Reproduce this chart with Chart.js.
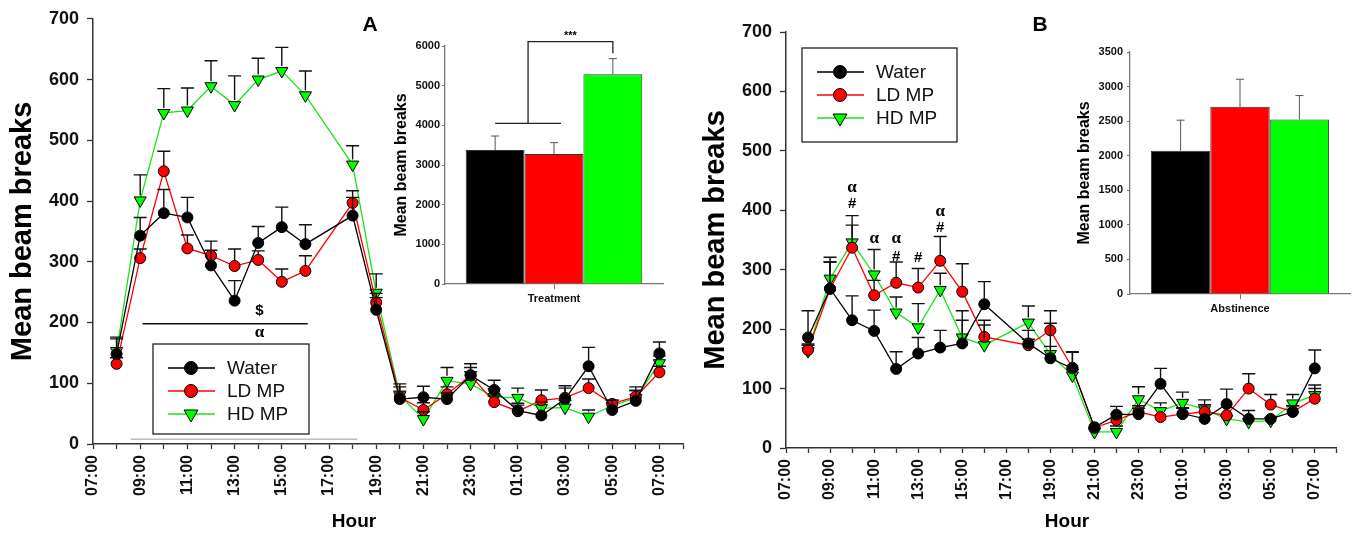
<!DOCTYPE html>
<html>
<head>
<meta charset="utf-8">
<script src="https://cdn.jsdelivr.net/npm/chart.js@4.4.1/dist/chart.umd.min.js"></script>
<style>
  html, body { margin: 0; padding: 0; background: #fff; }
  #wrap { position: relative; width: 1362px; height: 533px; overflow: hidden; }
  #wrap canvas { position: absolute; left: 0; top: 0; }
</style>
</head>
<body>
<div id="wrap">
  <canvas id="line-a" width="1362" height="533"></canvas>
  <canvas id="inset-a" width="1362" height="533"></canvas>
  <canvas id="line-b" width="1362" height="533"></canvas>
  <canvas id="inset-b" width="1362" height="533"></canvas>
</div>
<script>
// Data
const hours = ['08:00', '09:00', '10:00', '11:00', '12:00', '13:00', '14:00', '15:00', '16:00',
  '18:00', '19:00', '20:00', '21:00', '22:00', '23:00', '00:00', '01:00', '02:00', '03:00',
  '04:00', '05:00', '06:00', '07:00'];
const tickLabels = ['07:00', '09:00', '11:00', '13:00', '15:00', '17:00', '19:00', '21:00',
  '23:00', '01:00', '03:00', '05:00', '07:00'];
const groups = ['Water', 'LD MP', 'HD MP'];

// Panel A (treatment)
const waterA = [148, 343, 380, 373, 294, 236, 331, 357, 329, 376, 221, 74, 77, 74, 113, 89, 55, 47, 74, 128, 56, 71, 149];
const waterAErr = [25, 30, 39, 33, 25, 33, 27, 33, 32, 30, 20, 20, 18, 10, 19, 16, 12, 8, 22, 31, 16, 23, 19];
const ldA = [132, 306, 449, 322, 310, 293, 303, 267, 285, 397, 233, 77, 56, 82, 113, 69, 54, 72, 76, 92, 66, 78, 118];
const ldAErr = [10, 15, 33, 22, 24, 28, 15, 21, 25, 20, 15, 10, 12, 12, 13, 10, 10, 17, 16, 15, 8, 10, 10];
const hdA = [153, 401, 545, 549, 589, 558, 600, 614, 574, 460, 249, 80, 41, 104, 99, 77, 76, 59, 60, 45, 63, 76, 133];
const hdAErr = [23, 42, 40, 37, 42, 48, 35, 39, 40, 31, 31, 19, 12, 22, 20, 14, 16, 10, 12, 11, 9, 12, 12];

// Panel B (abstinence)
const waterB = [186, 268, 215, 197, 133, 159, 169, 176, 242, 176, 151, 134, 35, 56, 57, 108, 58, 49, 74, 49, 49, 61, 134];
const waterBErr = [45, 45, 41, 35, 29, 27, 29, 39, 38, 22, 20, 27, 5, 14, 10, 26, 10, 8, 25, 14, 8, 10, 31];
const ldB = [165, 268, 337, 257, 278, 270, 315, 263, 187, 173, 198, 135, 34, 47, 61, 52, 57, 61, 55, 100, 73, 61, 83];
const ldBErr = [10, 53, 38, 25, 35, 32, 41, 47, 28, 10, 33, 27, 5, 10, 10, 8, 10, 12, 8, 25, 17, 10, 17];
const hdB = [163, 285, 346, 292, 228, 203, 266, 186, 173, 211, 158, 122, 27, 27, 82, 62, 76, 65, 49, 44, 46, 75, 89];
const hdBErr = [10, 28, 45, 42, 26, 40, 28, 45, 34, 28, 52, 10, 5, 10, 21, 14, 18, 16, 8, 6, 6, 15, 17];

// Insets: total beam breaks
const totalA = [3378, 3277, 5286];
const totalAErr = [353, 286, 395];
const totalB = [2072, 2707, 2524];
const totalBErr = [442, 399, 346];

const FONT = "'Liberation Sans', Arial, sans-serif";
const SERIF = "'Liberation Serif', 'Times New Roman', serif";
const groupStyles = [
  { line: '#000000', fill: '#000000', shape: 'circle' },
  { line: '#ff0000', fill: '#ff0000', shape: 'circle' },
  { line: '#19e619', fill: '#00ff00', shape: 'triangle' },
];

// hours since 07:00, keeps increasing past midnight
function hourPositions(list) {
  let prev = -1;
  return list.map(h => {
    let v = (parseInt(h, 10) - 7 + 24) % 24;
    while (v <= prev) v += 24;
    prev = v;
    return v;
  });
}
const xs = hourPositions(hours);

function drawMarker(ctx, shape, x, y, r, fill) {
  ctx.save();
  ctx.fillStyle = fill;
  ctx.strokeStyle = '#000';
  ctx.lineWidth = 1;
  ctx.beginPath();
  if (shape === 'circle') {
    ctx.arc(x, y, r, 0, Math.PI * 2);
  } else {
    ctx.moveTo(x - r * 0.87, y - r * 0.5);
    ctx.lineTo(x + r * 0.87, y - r * 0.5);
    ctx.lineTo(x, y + r);
    ctx.closePath();
  }
  ctx.fill();
  ctx.stroke();
  ctx.restore();
}

function lineDatasets(series, errs) {
  return series.map((vals, g) => {
    const st = groupStyles[g];
    return {
      label: groups[g],
      data: vals.map((v, i) => ({ x: xs[i], y: v })),
      errors: errs[g],
      borderColor: st.line,
      borderWidth: 1.3,
      pointBackgroundColor: st.fill,
      pointBorderColor: '#000',
      pointBorderWidth: 1,
      pointRadius: st.shape === 'circle' ? 5.5 : 7,
      pointStyle: st.shape === 'circle' ? 'circle' : 'triangle',
      pointRotation: st.shape === 'circle' ? 0 : 180,
      tension: 0,
      fill: false,
    };
  });
}

// one-sided (upward) error bars
const errorBars = {
  id: 'errorBars',
  afterDatasetsDraw(chart) {
    const { ctx } = chart;
    const yScale = chart.scales.y;
    const isBar = chart.config.type === 'bar';
    ctx.save();
    ctx.strokeStyle = isBar ? '#555' : '#111';
    ctx.lineWidth = isBar ? 1 : 1.4;
    chart.data.datasets.forEach((ds, di) => {
      const meta = chart.getDatasetMeta(di);
      meta.data.forEach((el, i) => {
        const v = isBar ? ds.data[i] : ds.data[i].y;
        const top = yScale.getPixelForValue(v + ds.errors[i]);
        const base = isBar ? el.y : el.y - 5;
        if (top >= base) return;
        const half = isBar ? 4 : 6.5;
        ctx.beginPath();
        ctx.moveTo(el.x, base);
        ctx.lineTo(el.x, top);
        ctx.moveTo(el.x - half, top);
        ctx.lineTo(el.x + half, top);
        ctx.stroke();
      });
    });
    ctx.restore();
  }
};

function legendPlugin(box) {
  return {
    id: 'boxLegend',
    afterDraw(chart) {
      const { ctx } = chart;
      ctx.save();
      ctx.strokeStyle = '#222';
      ctx.lineWidth = 1.3;
      ctx.strokeRect(box.x, box.y, box.w, box.h);
      groups.forEach((name, g) => {
        const st = groupStyles[g];
        const y = box.y + 24 + g * 23;
        ctx.strokeStyle = st.line;
        ctx.lineWidth = 1.3;
        ctx.beginPath();
        ctx.moveTo(box.x + 15, y);
        ctx.lineTo(box.x + 62, y);
        ctx.stroke();
        drawMarker(ctx, st.shape, box.x + 38, y, st.shape === 'circle' ? 6.5 : 8, st.fill);
        ctx.fillStyle = '#111';
        ctx.font = '19px ' + FONT;
        ctx.textBaseline = 'middle';
        ctx.fillText(name, box.x + 74, y + 1);
      });
      ctx.restore();
    }
  };
}

// panel letter, "Hour" title and significance marks
function notesPlugin(cfg) {
  return {
    id: 'notes',
    afterDraw(chart) {
      const { ctx } = chart;
      const xS = chart.scales.x, yS = chart.scales.y;
      ctx.save();
      ctx.fillStyle = '#000';
      ctx.textAlign = 'center';
      ctx.textBaseline = 'middle';
      ctx.font = 'bold 21px ' + FONT;
      ctx.fillText(cfg.letter, cfg.letterX, 25);
      ctx.font = 'bold 19px ' + FONT;
      ctx.fillText('Hour', cfg.hourX, 522);
      (cfg.lines || []).forEach(l => {
        ctx.strokeStyle = l.color;
        ctx.lineWidth = l.width;
        ctx.beginPath();
        ctx.moveTo(xS.getPixelForValue(l.x0), yS.getPixelForValue(l.y));
        ctx.lineTo(xS.getPixelForValue(l.x1), yS.getPixelForValue(l.y));
        ctx.stroke();
      });
      (cfg.marks || []).forEach(m => {
        ctx.font = m.text === 'α' ? 'bold 17px ' + SERIF : 'bold 15px ' + FONT;
        ctx.fillText(m.text, xS.getPixelForValue(m.x), yS.getPixelForValue(m.y));
      });
      ctx.restore();
    }
  };
}

function lineOptions(cfg) {
  return {
    responsive: false,
    animation: false,
    layout: { padding: cfg.padding },
    plugins: { legend: { display: false }, tooltip: { enabled: false } },
    scales: {
      x: {
        type: 'linear', min: 0, max: 25,
        afterFit(s) { s.height = cfg.xHeight; },
        ticks: {
          stepSize: 1, maxTicksLimit: 40, autoSkip: false, minRotation: 90, maxRotation: 90,
          padding: 6, color: '#111', font: { family: FONT, size: 16, weight: 'bold' },
          callback(v) { return (v % 2 === 0 && v <= 24) ? tickLabels[v / 2] : ''; }
        },
        grid: { drawOnChartArea: false, tickLength: 5, color: '#333', tickWidth: 1.3 },
        border: { color: '#333', width: 1.5 }
      },
      y: {
        min: 0, max: 700,
        afterFit(s) { s.width = cfg.yWidth; },
        ticks: { stepSize: 100, padding: 8, color: '#111', font: { family: FONT, size: 18, weight: 'bold' } },
        grid: { drawOnChartArea: false, tickLength: 6, color: '#333', tickWidth: 1.3 },
        border: { color: '#333', width: 1.5 },
        title: {
          display: true, text: 'Mean beam breaks', color: '#000',
          font: { family: FONT, size: 29, weight: 'bold' },
          padding: { top: cfg.titlePad, bottom: 0 }
        }
      }
    }
  };
}

function barDatasets(vals, errs) {
  return vals.map((v, g) => ({
    label: groups[g],
    data: [v],
    errors: [errs[g]],
    backgroundColor: groupStyles[g].fill,
    borderColor: '#333',
    borderWidth: 1,
    barPercentage: 1,
    categoryPercentage: 0.81,
  }));
}

function insetOptions(cfg) {
  return {
    responsive: false,
    animation: false,
    layout: { padding: cfg.padding },
    plugins: { legend: { display: false }, tooltip: { enabled: false } },
    scales: {
      x: {
        afterFit(s) { s.height = 30; },
        ticks: { padding: 3, color: '#111', font: { family: FONT, size: 11, weight: 'bold' } },
        grid: { offset: false, drawOnChartArea: false, tickLength: 5, color: '#777' },
        border: { color: '#777', width: 1.3 }
      },
      y: {
        min: 0, max: cfg.max,
        afterFit(s) { s.width = cfg.yWidth; },
        ticks: {
          stepSize: cfg.step, padding: cfg.tickPad, color: '#111',
          font: { family: FONT, size: 11, weight: 'bold' },
          callback(v) { return String(v); }
        },
        grid: { drawOnChartArea: false, tickLength: 3, color: '#777' },
        border: { color: '#777', width: 1.3 },
        title: {
          display: true, text: 'Mean beam breaks', color: '#000',
          font: { family: FONT, size: 16, weight: 'bold' },
          padding: { top: cfg.titlePad, bottom: 0 }
        }
      }
    }
  };
}

// bracket over the treatment inset
const bracketA = {
  id: 'bracketA',
  afterDraw(chart) {
    const { ctx } = chart;
    const yS = chart.scales.y;
    const b0 = chart.getDatasetMeta(0).data[0];
    const b1 = chart.getDatasetMeta(1).data[0];
    const b2 = chart.getDatasetMeta(2).data[0];
    const xl = b0.x, xr = b1.x + 7, xm = (xl + xr) / 2;
    const yLow = yS.getPixelForValue(4050);
    const yTop = yS.getPixelForValue(6110);
    const yEnd = yS.getPixelForValue(5815);
    ctx.save();
    ctx.strokeStyle = '#222';
    ctx.lineWidth = 1.3;
    ctx.beginPath();
    ctx.moveTo(xl, yLow); ctx.lineTo(xr, yLow);
    ctx.moveTo(xm, yLow); ctx.lineTo(xm, yTop);
    ctx.lineTo(b2.x, yTop); ctx.lineTo(b2.x, yEnd);
    ctx.stroke();
    ctx.fillStyle = '#000';
    ctx.font = 'bold 11px ' + FONT;
    ctx.textAlign = 'center';
    ctx.textBaseline = 'middle';
    ctx.fillText('***', (xm + b2.x) / 2, yTop - 6);
    ctx.restore();
  }
};

new Chart(document.getElementById('line-a'), {
  type: 'line',
  data: { datasets: lineDatasets([waterA, ldA, hdA], [waterAErr, ldAErr, hdAErr]) },
  options: lineOptions({ padding: { left: 0, right: 679, top: 18, bottom: 0 }, xHeight: 89, yWidth: 93, titlePad: 6 }),
  plugins: [errorBars, legendPlugin({ x: 153, y: 344, w: 156, h: 90 }), notesPlugin({
    letter: 'A', letterX: 370, hourX: 354,
    lines: [
      { x0: 2.1, x1: 9.1, y: 198, color: '#111', width: 1.6 },
      { x0: 1.6, x1: 11.2, y: 8, color: '#999', width: 1 }
    ],
    marks: [{ x: 7.05, y: 220, text: '$' }, { x: 7.05, y: 184, text: 'α' }]
  })]
});

new Chart(document.getElementById('inset-a'), {
  type: 'bar',
  data: { labels: ['Treatment'], datasets: barDatasets(totalA, totalAErr) },
  options: insetOptions({ padding: { left: 380, right: 699, top: 46, bottom: 219 }, max: 6000, step: 1000, yWidth: 65, tickPad: 2, titlePad: 12 }),
  plugins: [errorBars, bracketA]
});

new Chart(document.getElementById('line-b'), {
  type: 'line',
  data: { datasets: lineDatasets([waterB, ldB, hdB], [waterBErr, ldBErr, hdBErr]) },
  options: lineOptions({ padding: { left: 690, right: 9, top: 32, bottom: 0 }, xHeight: 85, yWidth: 96, titlePad: 9 }),
  plugins: [errorBars, legendPlugin({ x: 802, y: 48, w: 155, h: 94 }), notesPlugin({
    letter: 'B', letterX: 1040, hourX: 1067,
    marks: [
      { x: 3, y: 438, text: 'α' }, { x: 3, y: 411, text: '#' },
      { x: 4, y: 352, text: 'α' },
      { x: 5, y: 352, text: 'α' }, { x: 5, y: 321, text: '#' },
      { x: 6, y: 320, text: '#' },
      { x: 7, y: 397, text: 'α' }, { x: 7, y: 371, text: '#' }
    ]
  })]
});

new Chart(document.getElementById('inset-b'), {
  type: 'bar',
  data: { labels: ['Abstinence'], datasets: barDatasets(totalB, totalBErr) },
  options: insetOptions({ padding: { left: 1060, right: 12, top: 52, bottom: 209 }, max: 3500, step: 500, yWidth: 70, tickPad: 4, titlePad: 15 }),
  plugins: [errorBars]
});
</script>
</body>
</html>
